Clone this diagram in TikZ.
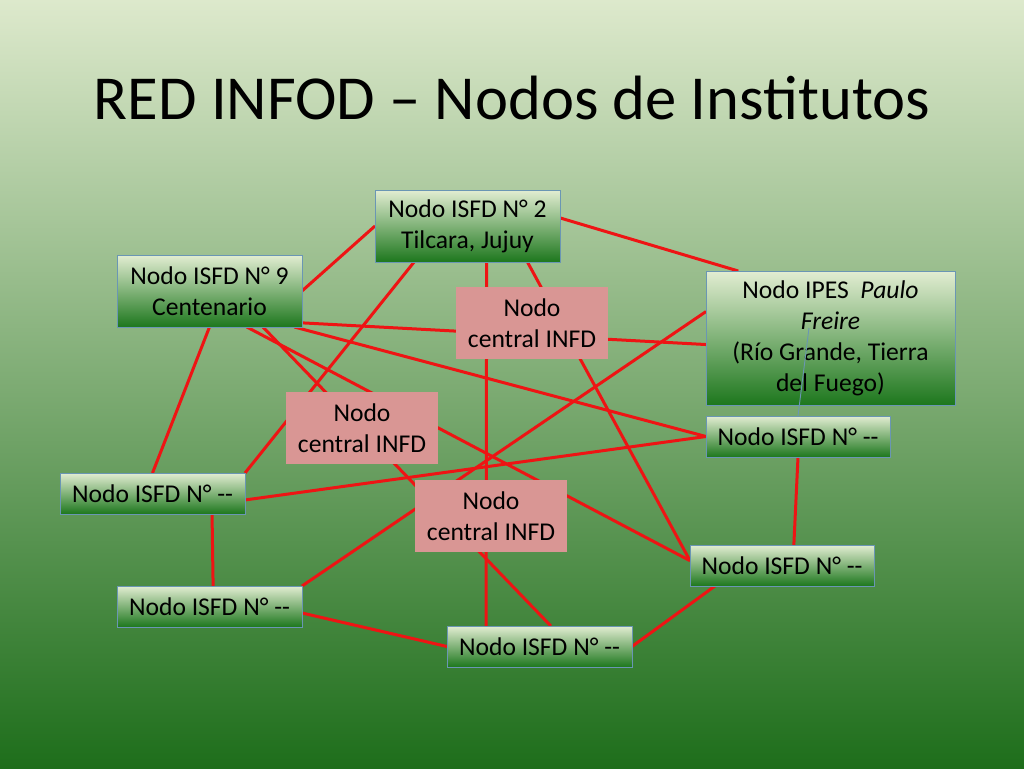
\documentclass[tikz,border=0pt]{standalone}
\usepackage{fontspec}
\setmainfont{Carlito}
\pgfdeclarelayer{back}
\pgfdeclarelayer{wires}
\pgfsetlayers{back,wires,main}
\definecolor{slidetop}{HTML}{DDE9CC}
\definecolor{slidemid}{HTML}{8DB563}
\definecolor{slidebot}{HTML}{1E6E1B}
\definecolor{boxtop}{HTML}{E2EDD2}
\definecolor{boxmid}{HTML}{8CBB70}
\definecolor{boxbot}{HTML}{1D771D}
\definecolor{boxline}{HTML}{6A96B4}
\definecolor{centralpink}{HTML}{D99694}
\definecolor{linkred}{HTML}{EE1414}
\begin{document}
\begin{tikzpicture}[x=1pt,y=-1pt]
        \tikzstyle{isfd}=[rectangle,draw=boxline,line width=0.8pt,top color=boxtop,middle color=boxmid,bottom color=boxbot,inner sep=0pt,outer sep=0pt,align=center,font=\fontsize{25.6}{31}\selectfont]
	\tikzstyle{central}=[rectangle,fill=centralpink,minimum width=152pt,minimum height=72pt,inner sep=0pt,outer sep=0pt,align=center,font=\fontsize{25.6}{31}\selectfont]
        \tikzstyle{edge}=[draw=linkred, line width=3pt]
        \tikzstyle{leftover}=[draw=boxline, line width=0.9pt]
       \useasboundingbox (0,0) rectangle (1024,768);
       \begin{pgfonlayer}{back}
         \shade[top color=slidetop,middle color=slidemid,bottom color=slidebot] (0,0) rectangle (1024,768);
       \end{pgfonlayer}

         \node (title) at (512,98) {\fontsize{62.6}{75}\selectfont RED INFOD – Nodos de Institutos};

         \node [isfd,minimum width=185pt,minimum height=72pt] (n2) at (467.5,226) {Nodo ISFD N° 2\\Tilcara, Jujuy};
         \node [isfd,minimum width=185pt,minimum height=72pt] (n9) at (209.5,291) {Nodo ISFD N° 9\\Centenario};
         \node [isfd,minimum width=249pt,minimum height=134pt] (ipes) at (830.5,338) {Nodo IPES~ \textit{Paulo}\\\textit{Freire}\\(Río Grande, Tierra\\del Fuego)};
         \node [central] (c1) at (532,323) {Nodo\\central INFD};
         \node [central] (c2) at (362,428) {Nodo\\central INFD};
         \node [central] (c3) at (491,516) {Nodo\\central INFD};
         \node [isfd,minimum width=184pt,minimum height=41pt] (ra) at (798,436.5) {Nodo ISFD N° -{}-};
         \node [isfd,minimum width=185pt,minimum height=41pt] (lb) at (152.5,493.5) {Nodo ISFD N° -{}-};
         \node [isfd,minimum width=184pt,minimum height=41pt] (rc) at (782,565.5) {Nodo ISFD N° -{}-};
         \node [isfd,minimum width=185pt,minimum height=41pt] (ld) at (209.5,606.5) {Nodo ISFD N° -{}-};
         \node [isfd,minimum width=185pt,minimum height=41pt] (e) at (539.5,646.5) {Nodo ISFD N° -{}-};
         \coordinate (freire) at (809,328);

       \begin{pgfonlayer}{wires}
 		\path[edge] (n9.east) -- (n2.west);
 		\path[edge] (n2.214) -- (lb.north east);
 		\path[edge] (n2.-62) -- (e.159);
 		\path[edge] (n2.-31) -- (rc.177);
 		\path[edge] (n2.5) -- (ipes.144);
 		\path[edge] (n9.south) -- (lb.north);
 		\path[edge] (n9.-19) -- (ipes.183);
 		\path[edge] (n9.-23) -- (ra.west);
 		\path[edge] (n9.-44) -- (rc.177);
 		\path[edge] (n9.-34) -- (e.61);
 		\path[edge] (ipes.168) -- (ld.north east);
 		\path[edge] (ra.west) -- (lb.-4);
 		\path[edge] (ra.south) -- (rc.60);
 		\path[edge] (rc.197) -- (e.east);
 		\path[edge] (lb.-19) -- (ld.80);
 		\path[edge] (ld.-4) -- (e.west);
       \end{pgfonlayer}
 		\path[leftover] (ra.north) -- (freire);
      \end{tikzpicture}
\end{document}
